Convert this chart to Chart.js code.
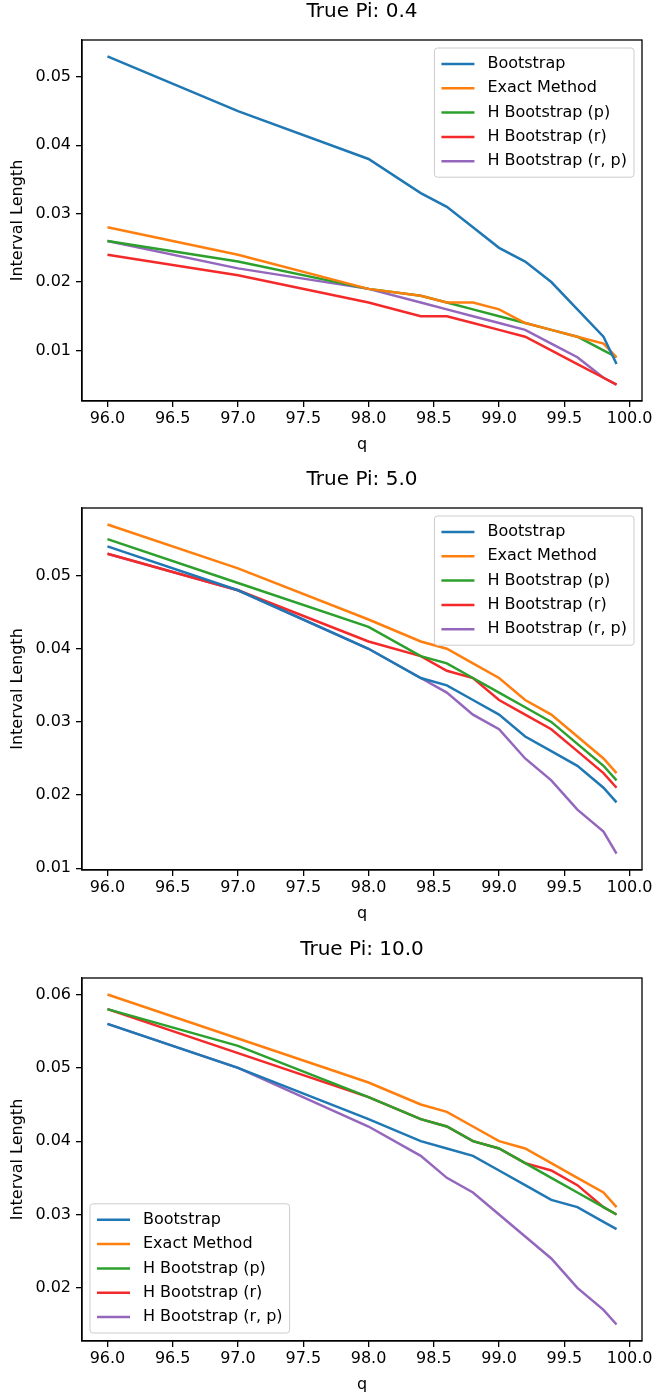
<!DOCTYPE html>
<html>
<head>
<meta charset="utf-8">
<script src="https://cdn.jsdelivr.net/npm/chart.js@4.4.1/dist/chart.umd.min.js"></script>
<style>
  html, body { margin: 0; padding: 0; background: #fff; }
  body { width: 656px; height: 1394px; position: relative; overflow: hidden; }
  .panel { position: absolute; left: 0; width: 656px; }
</style>
</head>
<body>
<div class="panel" id="p1"><canvas id="c1"></canvas></div>
<div class="panel" id="p2"><canvas id="c2"></canvas></div>
<div class="panel" id="p3"><canvas id="c3"></canvas></div>
<script>
// x positions (q) shared by every panel
const q = [96, 97, 98, 98.4, 98.6, 98.8, 99.0, 99.2, 99.4, 99.6, 99.8, 99.9];
const seriesNames = ['Bootstrap', 'Exact Method', 'H Bootstrap (p)', 'H Bootstrap (r)', 'H Bootstrap (r, p)'];
const seriesColors = ['#1f77b4', '#ff7f0e', '#2ca02c', '#f42a2a', '#9467bd'];
const xTicks = [96.0, 96.5, 97.0, 97.5, 98.0, 98.5, 99.0, 99.5, 100.0];

// True Pi: 0.4
const boot04  = [0.053, 0.045, 0.038, 0.033, 0.031, 0.028, 0.025, 0.023, 0.020, 0.016, 0.012, 0.008];
const exact04 = [0.028, 0.024, 0.019, 0.018, 0.017, 0.017, 0.016, 0.014, 0.013, 0.012, 0.011, 0.009];
const hp04    = [0.026, 0.023, 0.019, 0.018, 0.017, 0.016, 0.015, 0.014, 0.013, 0.012, 0.010, 0.009];
const hr04    = [0.024, 0.021, 0.017, 0.015, 0.015, 0.014, 0.013, 0.012, 0.010, 0.008, 0.006, 0.005];
const hrp04   = [0.026, 0.022, 0.019, 0.017, 0.016, 0.015, 0.014, 0.013, 0.011, 0.009, 0.006, 0.005];
const yTicks04 = [0.01, 0.02, 0.03, 0.04, 0.05];

// True Pi: 5.0
const boot5  = [0.054, 0.048, 0.040, 0.036, 0.035, 0.033, 0.031, 0.028, 0.026, 0.024, 0.021, 0.019];
const exact5 = [0.057, 0.051, 0.044, 0.041, 0.040, 0.038, 0.036, 0.033, 0.031, 0.028, 0.025, 0.023];
const hp5    = [0.055, 0.049, 0.043, 0.039, 0.038, 0.036, 0.034, 0.032, 0.030, 0.027, 0.024, 0.022];
const hr5    = [0.053, 0.048, 0.041, 0.039, 0.037, 0.036, 0.033, 0.031, 0.029, 0.026, 0.023, 0.021];
const hrp5   = [0.053, 0.048, 0.040, 0.036, 0.034, 0.031, 0.029, 0.025, 0.022, 0.018, 0.015, 0.012];
const yTicks5 = [0.01, 0.02, 0.03, 0.04, 0.05];

// True Pi: 10.0
const boot10  = [0.056, 0.050, 0.043, 0.040, 0.039, 0.038, 0.036, 0.034, 0.032, 0.031, 0.029, 0.028];
const exact10 = [0.060, 0.054, 0.048, 0.045, 0.044, 0.042, 0.040, 0.039, 0.037, 0.035, 0.033, 0.031];
const hp10    = [0.058, 0.053, 0.046, 0.043, 0.042, 0.040, 0.039, 0.037, 0.035, 0.033, 0.031, 0.030];
const hr10    = [0.058, 0.052, 0.046, 0.043, 0.042, 0.040, 0.039, 0.037, 0.036, 0.034, 0.031, 0.030];
const hrp10   = [0.056, 0.050, 0.042, 0.038, 0.035, 0.033, 0.030, 0.027, 0.024, 0.020, 0.017, 0.015];
const yTicks10 = [0.02, 0.03, 0.04, 0.05, 0.06];

const FONT = 'DejaVu Sans';
const PLOT_LEFT = 82, PLOT_RIGHT = 642, TITLE_H = 40, XAXIS_H = 53;

// matplotlib style 5% auto margins
function withMargin(arrs) {
  const all = [].concat(...arrs);
  const lo = Math.min(...all), hi = Math.max(...all), m = (hi - lo) * 0.05;
  return [lo - m, hi + m];
}

const framePlugin = {
  id: 'frame',
  afterDatasetsDraw(chart) {
    const a = chart.chartArea, ctx = chart.ctx;
    ctx.save();
    ctx.strokeStyle = '#000';
    ctx.lineWidth = 1.3;
    ctx.strokeRect(a.left, a.top, a.right - a.left, a.bottom - a.top);
    ctx.restore();
  }
};

const boxLegend = {
  id: 'boxLegend',
  afterDraw(chart, args, opts) {
    const ctx = chart.ctx, a = chart.chartArea;
    const sets = chart.data.datasets;
    ctx.save();
    ctx.font = '16px "' + FONT + '"';
    const pad = 7, handle = 33, gap = 13, rowH = 24.3;
    let tw = 0;
    sets.forEach(d => { tw = Math.max(tw, ctx.measureText(d.label).width); });
    const w = pad + handle + gap + tw + pad;
    const h = pad * 2 + rowH * (sets.length - 1) + 18;
    const x = opts.loc === 'lower left' ? a.left + 8 : a.right - 8 - w;
    const y = opts.loc === 'lower left' ? a.bottom - 8 - h : a.top + 8;
    ctx.beginPath();
    ctx.roundRect(x, y, w, h, 3);
    ctx.fillStyle = 'rgba(255,255,255,0.8)';
    ctx.fill();
    ctx.strokeStyle = '#cccccc';
    ctx.lineWidth = 1;
    ctx.stroke();
    sets.forEach((d, i) => {
      const cy = y + pad + 9 + i * rowH;
      ctx.beginPath();
      ctx.moveTo(x + pad, cy);
      ctx.lineTo(x + pad + handle, cy);
      ctx.strokeStyle = d.borderColor;
      ctx.lineWidth = 2.5;
      ctx.stroke();
      ctx.fillStyle = '#000';
      ctx.textBaseline = 'middle';
      ctx.fillText(d.label, x + pad + handle + gap, cy);
    });
    ctx.restore();
  }
};

const panels = [
  { id: 'c1', box: 'p1', title: 'True Pi: 0.4', series: [boot04, exact04, hp04, hr04, hrp04], yTicks: yTicks04, loc: 'upper right', top: 40, bottom: 401 },
  { id: 'c2', box: 'p2', title: 'True Pi: 5.0', series: [boot5, exact5, hp5, hr5, hrp5], yTicks: yTicks5, loc: 'upper right', top: 508, bottom: 870 },
  { id: 'c3', box: 'p3', title: 'True Pi: 10.0', series: [boot10, exact10, hp10, hr10, hrp10], yTicks: yTicks10, loc: 'lower left', top: 978, bottom: 1341 }
];

const axisGrid = { display: true, drawOnChartArea: false, drawTicks: true, tickLength: 6, color: '#000', lineWidth: 1.3 };
const axisBorder = { display: true, color: '#000', width: 1.3 };
const [xMin, xMax] = withMargin([q]);

panels.forEach(p => {
  const H = TITLE_H + (p.bottom - p.top) + XAXIS_H;
  const box = document.getElementById(p.box);
  box.style.top = (p.top - TITLE_H) + 'px';
  box.style.height = H + 'px';
  const cv = document.getElementById(p.id);
  cv.width = 656; cv.height = H;
  const [yMin, yMax] = withMargin(p.series);

  new Chart(cv, {
    type: 'line',
    data: {
      datasets: p.series.map((arr, i) => ({
        label: seriesNames[i],
        data: q.map((x, j) => ({ x: x, y: arr[j] })),
        borderColor: seriesColors[i],
        backgroundColor: seriesColors[i],
        borderWidth: 2.5,
        pointRadius: 0,
        tension: 0,
        fill: false
      }))
    },
    options: {
      responsive: false,
      animation: false,
      devicePixelRatio: 1,
      layout: { padding: { left: 0, right: 656 - PLOT_RIGHT, top: 0, bottom: 0 } },
      plugins: {
        legend: { display: false },
        tooltip: { enabled: false },
        title: {
          display: true,
          fullSize: false,
          text: p.title,
          color: '#000',
          font: { family: FONT, size: 20, weight: 'normal' },
          padding: { top: 0, bottom: TITLE_H - 24 }
        },
        boxLegend: { loc: p.loc }
      },
      scales: {
        x: {
          type: 'linear',
          min: xMin, max: xMax,
          afterBuildTicks: s => { s.ticks = xTicks.map(v => ({ value: v })); },
          afterFit: s => { s.height = XAXIS_H; },
          grid: axisGrid,
          border: axisBorder,
          ticks: { color: '#000', font: { family: FONT, size: 16 }, padding: 2, maxRotation: 0, autoSkip: false,
                   callback: v => Number(v).toFixed(1) },
          title: { display: true, text: 'q', color: '#000', font: { family: FONT, size: 16 }, padding: { top: 0, bottom: 0 } }
        },
        y: {
          type: 'linear',
          min: yMin, max: yMax,
          afterBuildTicks: s => { s.ticks = p.yTicks.map(v => ({ value: v })); },
          afterFit: s => { s.width = PLOT_LEFT; },
          grid: axisGrid,
          border: axisBorder,
          ticks: { color: '#000', font: { family: FONT, size: 16 }, padding: 5, autoSkip: false,
                   callback: v => Number(v).toFixed(2) },
          title: { display: true, text: 'Interval Length', color: '#000', font: { family: FONT, size: 16 }, padding: { top: 8, bottom: 0 } }
        }
      }
    },
    plugins: [framePlugin, boxLegend]
  });
});
</script>
</body>
</html>
